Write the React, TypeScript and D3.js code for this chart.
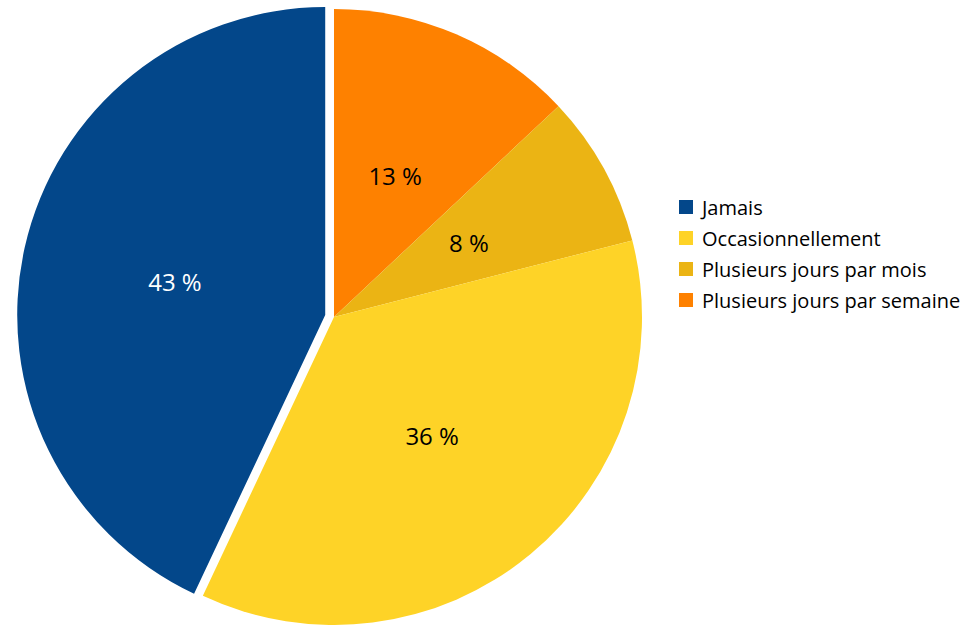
import React from "react";
import * as d3 from "d3";

const categories = ["Jamais", "Occasionnellement", "Plusieurs jours par mois", "Plusieurs jours par semaine"];
const values = [43, 36, 8, 13];
const colors = ["#03478A", "#FED327", "#EBB414", "#FE8100"];
const labelColors = ["#FFFFFF", "#000000", "#000000", "#000000"];
// drawing order clockwise from top
const drawOrder = [3, 2, 1, 0];
const explode = [9, 0, 0, 0];

export default function App() {
  const W = 968, H = 625;
  const cx = 334, cy = 317, R = 308;
  const font = "'Open Sans', sans-serif";
  const data = drawOrder.map((i) => ({ i, v: values[i] }));
  const pie = d3.pie<{ i: number; v: number }>().sort(null).value((d) => d.v);
  const arcs = pie(data);
  const arc = d3.arc<d3.PieArcDatum<{ i: number; v: number }>>().innerRadius(0).outerRadius(R);
  const labelArc = d3.arc<d3.PieArcDatum<{ i: number; v: number }>>().innerRadius(R * 0.5).outerRadius(R * 0.5);
  return (
    <svg width={W} height={H} style={{ position: "absolute", left: 0, top: 0 }}>
      <rect width={W} height={H} fill="#fff" />
      <g transform={`translate(${cx},${cy})`}>
        {arcs.map((a) => {
          const mid = (a.startAngle + a.endAngle) / 2;
          const off = explode[a.data.i];
          const dx = Math.sin(mid) * off, dy = -Math.cos(mid) * off;
          const [lx, ly] = labelArc.centroid(a);
          return (
            <g key={a.data.i} transform={`translate(${dx},${dy})`}>
              <path d={arc(a) || ""} fill={colors[a.data.i]} />
              <text x={lx} y={ly} textAnchor="middle" dominantBaseline="central" fontFamily={font} fontSize={24} fill={labelColors[a.data.i]}>
                {`${values[a.data.i]} %`}
              </text>
            </g>
          );
        })}
      </g>
      {categories.map((c, i) => (
        <g key={c} transform={`translate(679,${207 + i * 31})`}>
          <rect x={0} y={-7} width={14} height={14} fill={colors[i]} />
          <text x={23} y={0} dominantBaseline="central" fontFamily={font} fontSize={20} fill="#000">{c}</text>
        </g>
      ))}
    </svg>
  );
}
